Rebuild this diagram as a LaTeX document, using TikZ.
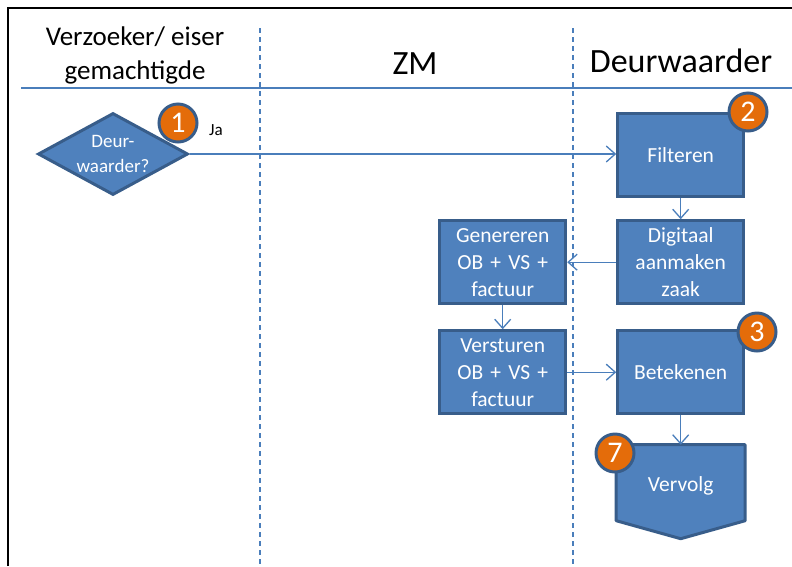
\documentclass[tikz,border=0pt]{standalone}
\usepackage{fontspec}
\setmainfont{Carlito}
\usetikzlibrary{matrix,shapes.geometric,arrows.meta,backgrounds}
\definecolor{boxfill}{HTML}{4F81BD}
\definecolor{boxline}{HTML}{385D8A}
\definecolor{flowline}{HTML}{4A7EBB}
\definecolor{badgefill}{HTML}{E46C0A}
\tikzstyle{task} = [draw=boxline,fill=boxfill,line width=3pt,text=white,align=center,text width=122pt,
  minimum width=126pt,minimum height=83pt,inner sep=0pt,font=\fontsize{21.5}{27}\selectfont]
\tikzstyle{decision} = [diamond,draw=boxline,fill=boxfill,line width=3pt,text=white,align=center,
  aspect=1.8,minimum width=150pt,minimum height=82pt,inner sep=0pt,font=\fontsize{19}{25}\selectfont]
\tikzstyle{badge} = [circle,draw=boxline,fill=badgefill,line width=3pt,text=white,
  minimum size=38pt,inner sep=0pt,font=\fontsize{30}{30}\selectfont]
\tikzstyle{flow} = [draw=flowline,line width=1.3pt]
\tikzstyle{lane} = [draw=flowline,line width=1.5pt,dash pattern=on 5pt off 4pt]
\tikzstyle{head} = [font=\fontsize{34}{40}\selectfont]

\begin{document}
\begin{tikzpicture}[x=1pt,y=-1pt,>={Straight Barb[length=9pt,width=16pt]}]
	\useasboundingbox (0,0) rectangle (792,566);
	\draw[line width=2.5pt] (8,566) -- (8,8) -- (792,8);
	\draw[flow] (21,88) -- (792,88);
	\draw[lane] (260,28) -- (260,566);
	\draw[lane] (573,28) -- (573,566);

	\node[align=center,font=\fontsize{27}{34}\selectfont] (hdr1) at (135,55) {Verzoeker/ eiser\\gemachtigde};
	\node[head] (hdr2) at (415,64) {ZM};
	\node[head] (hdr3) at (681,61) {Deurwaarder};

		\matrix (flow) [%
		matrix of nodes,
		anchor=north west,
		inner sep=0pt,
		column sep=49pt,
		row sep=21pt,
		nodes={task,anchor=center},
    	] at (438,112)
    	{
        				  & Filteren \\
	       Genereren\break OB + VS +\break factuur & Digitaal\break aanmaken\break zaak \\[3pt]
	       Versturen\break OB + VS +\break factuur & Betekenen \\[13pt]
        		 	 & |[draw=none,fill=none,minimum height=73pt,yshift=-3pt]| Vervolg \\
    };
	\begin{scope}[on background layer]
	\filldraw[draw=boxline,fill=boxfill,line width=3pt,line join=round]
	  ([yshift=3pt]flow-4-2.north west) -- ([yshift=3pt]flow-4-2.north east)
	  -- ([yshift=3pt]flow-4-2.south east) -- ([yshift=-15pt]flow-4-2.south)
	  -- ([yshift=3pt]flow-4-2.south west) -- cycle;
	\end{scope}

	\node[decision] (dec) at (113,154) {Deur-\\waarder?};
	\node[font=\fontsize{17}{20}\selectfont] (ja) at (216,130) {Ja};

    \draw[flow,->] (dec.east) -- (dec.east -| flow-1-2.west);
    \draw[flow,->] (flow-1-2) -- (flow-2-2);
    \draw[flow,->] (flow-2-2) -- (flow-2-1);
    \draw[flow,->] (flow-2-1) -- (flow-3-1);
    \draw[flow,->] (flow-3-1) -- (flow-3-2);
    \draw[flow,->] (flow-3-2) -- ([yshift=3pt]flow-4-2.north);

	\node[badge] (b1) at (178,123) {1};
	\node[badge] (b2) at (748,112) {2};
	\node[badge] (b3) at (757,332) {3};
	\node[badge] (b7) at (615,453) {7};
\end{tikzpicture}
\end{document}
